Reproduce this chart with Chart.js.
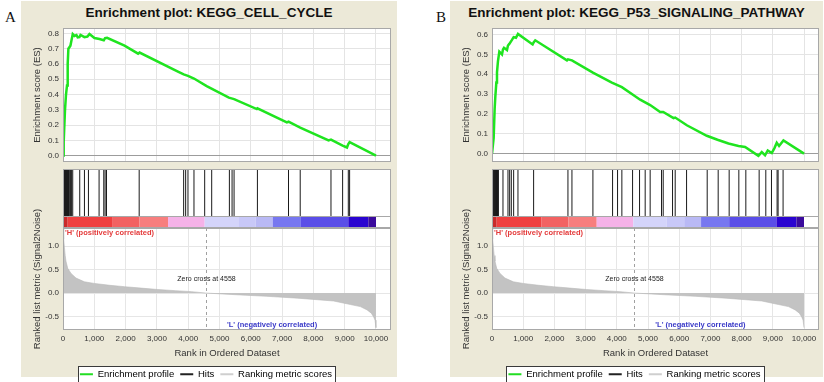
<!DOCTYPE html>
<html>
<head>
<meta charset="utf-8">
<script src="https://cdn.jsdelivr.net/npm/chart.js@4.4.1/dist/chart.umd.min.js"></script>
<style>
  body { margin:0; width:824px; height:382px; overflow:hidden; background:#fff; position:relative; font-family: Arial, "Liberation Sans", sans-serif; }
  .panel { position:absolute; top:1px; height:376px; background:#ece9d8; }
  .ptitle { position:absolute; top:4.5px; left:0; width:100%; text-align:center; font-weight:bold; font-size:13.5px; line-height:13.5px; color:#111; }
  .tag { position:absolute; top:10px; font-family:"Liberation Serif", "Times New Roman", serif; font-size:15px; line-height:15px; color:#111; }
  canvas { position:absolute; }
</style>
</head>
<body>
<div class="tag" style="left:5px">A</div>
<div class="tag" style="left:436px">B</div>
<div class="panel" style="left:21px;width:376px"><div class="ptitle">Enrichment plot: KEGG_CELL_CYCLE</div></div>
<div class="panel" style="left:450px;width:373px"><div class="ptitle">Enrichment plot: KEGG_P53_SIGNALING_PATHWAY</div></div>

<canvas id="esA" width="376" height="150" style="left:21px;top:20px"></canvas>
<canvas id="hitA" width="376" height="66" style="left:21px;top:166px"></canvas>
<canvas id="rankA" width="376" height="189" style="left:21px;top:200px"></canvas>
<canvas id="esB" width="373" height="150" style="left:450px;top:20px"></canvas>
<canvas id="hitB" width="373" height="66" style="left:450px;top:166px"></canvas>
<canvas id="rankB" width="373" height="189" style="left:450px;top:200px"></canvas>

<script>
// rank axis
const xTicks = [0, 1000, 2000, 3000, 4000, 5000, 6000, 7000, 8000, 9000, 10000];
const xMax = 10480;

// A: KEGG_CELL_CYCLE running enrichment score
const esRanksA = [0, 22, 64, 96, 128, 150, 172, 237, 311, 365, 430, 470, 525, 560, 685, 780, 845, 1005, 1165, 1303, 1345, 1409, 1966, 2400, 2446, 3673, 3855, 3993, 4185, 4591, 5300, 5466, 6192, 6212, 7153, 7205, 7579, 8486, 8562, 8934, 9074, 9116, 9158, 10000];
const esValsA = [0, 0.09, 0.30, 0.40, 0.46, 0.60, 0.70, 0.72, 0.796, 0.784, 0.79, 0.775, 0.776, 0.79, 0.776, 0.78, 0.796, 0.77, 0.764, 0.756, 0.77, 0.772, 0.72, 0.668, 0.675, 0.55, 0.532, 0.522, 0.505, 0.455, 0.38, 0.37, 0.305, 0.31, 0.218, 0.222, 0.183, 0.10, 0.105, 0.066, 0.053, 0.075, 0.088, 0];
const hitsA = [5, 18, 31, 44, 57, 70, 83, 96, 109, 122, 135, 148, 161, 174, 187, 200, 237, 269, 311, 535, 685, 813, 1153, 1303, 1345, 1390, 2434, 3855, 3919, 3993, 4185, 4527, 4751, 5316, 5402, 5466, 6212, 7205, 7579, 8562, 8934, 9116, 9158];
const esTicksA = [0, 0.1, 0.2, 0.3, 0.4, 0.5, 0.6, 0.7, 0.8];

// B: KEGG_P53_SIGNALING_PATHWAY running enrichment score
const esRanksB = [0, 32, 53, 85, 107, 139, 160, 192, 235, 320, 352, 384, 480, 512, 555, 640, 694, 768, 832, 1302, 1334, 1387, 2402, 2434, 2562, 3234, 3842, 4162, 4749, 5069, 5389, 5487, 5818, 5871, 6244, 6884, 7227, 7579, 7900, 8111, 8538, 8645, 8751, 8837, 8966, 9052, 9126, 9200, 9340, 10000];
const esValsB = [0, 0, 0.078, 0.226, 0.288, 0.358, 0.41, 0.467, 0.514, 0.50, 0.525, 0.533, 0.522, 0.545, 0.553, 0.573, 0.587, 0.584, 0.603, 0.55, 0.56, 0.571, 0.47, 0.475, 0.47, 0.408, 0.358, 0.335, 0.272, 0.245, 0.21, 0.21, 0.179, 0.182, 0.143, 0.09, 0.07, 0.051, 0.039, 0.034, -0.011, 0.008, -0.008, 0.016, 0.003, 0.028, 0.055, 0.039, 0.067, 0];
const hitsB = [40, 55, 70, 85, 100, 115, 130, 145, 160, 175, 190, 205, 352, 512, 566, 619, 694, 832, 1334, 2434, 2562, 3234, 3864, 4024, 4162, 4505, 4729, 4909, 5069, 5433, 5487, 5786, 5871, 6236, 6897, 7249, 7601, 7911, 8135, 8562, 8775, 8957, 9137, 9169, 9329];
const esTicksB = [0, 0.1, 0.2, 0.3, 0.4, 0.5, 0.6];

// ranked list metric (same list for both)
const metricRanks = [0, 12, 30, 45, 70, 96, 150, 256, 416, 685, 1005, 1500, 1966, 2500, 3032, 3600, 4099, 4558, 5500, 6513, 7500, 8645, 9180, 9500, 9715, 9850, 9926, 9970, 10000];
const metricVals = [1.6, 1.42, 1.15, 0.98, 0.8, 0.68, 0.53, 0.42, 0.32, 0.24, 0.205, 0.165, 0.136, 0.105, 0.075, 0.05, 0.03, 0, -0.035, -0.07, -0.11, -0.17, -0.245, -0.29, -0.36, -0.43, -0.51, -0.58, -0.74];
const metricTicks = [-0.5, 0, 0.5, 1.0];
const zeroCross = 4558;

// colour bar under the hits
const barEdges = [0, 150, 1590, 2446, 3356, 4527, 5600, 6160, 6700, 7601, 9116, 9756, 10000];
const barColors = ['#c92a2a', '#ef3f3f', '#f26262', '#f77e7e', '#f5b2e8', '#d4d4fa', '#c8c8f8', '#b9b9f5', '#7777f0', '#5a4ee8', '#2a04d0', '#3a0a9c'];

const legendNames = ['Enrichment profile', 'Hits', 'Ranking metric scores'];
const legendColors = ['#22dd22', '#222222', '#cfcfcf'];

const FONT = 'Arial, "Liberation Sans", sans-serif';
Chart.defaults.font.family = FONT;
Chart.defaults.color = '#333';
Chart.defaults.animation = false;
Chart.defaults.plugins.legend.display = false;
Chart.defaults.plugins.tooltip.enabled = false;

const hitLo = 0.2034;   // hits sit above this, colour bar below
const barMid = hitLo / 2;

const pts = (xs, ys) => xs.map((x, i) => ({x: x, y: ys[i]}));
const fixTicks = arr => s => { s.ticks = arr.map(v => ({value: v})); };

// white plot area, frame, legend box
const plotBox = {
  id: 'plotBox',
  beforeDraw(chart) {
    const {ctx, chartArea: a} = chart;
    ctx.save();
    ctx.fillStyle = '#fff';
    ctx.fillRect(a.left, a.top, a.right - a.left, a.bottom - a.top);
    const lg = chart.legend;
    if (lg && lg.options.display && lg.legendHitBoxes && lg.legendHitBoxes.length) {
      const hb = lg.legendHitBoxes;
      const l = Math.round(hb[0].left - 2) + 0.5;
      const r = Math.round(hb[hb.length - 1].left + hb[hb.length - 1].width + 3) + 0.5;
      const t = Math.round(hb[0].top - 4) + 0.5;
      const b = Math.round(hb[0].top + hb[0].height + 4) + 0.5;
      ctx.fillRect(l, t, r - l, b - t);
      ctx.strokeStyle = '#3a3a3a';
      ctx.lineWidth = 1;
      ctx.strokeRect(l, t, r - l, b - t);
    }
    ctx.restore();
  },
  afterDatasetsDraw(chart) {
    const {ctx, chartArea: a} = chart;
    ctx.save();
    ctx.strokeStyle = '#a8a8a8';
    ctx.lineWidth = 1;
    ctx.strokeRect(Math.round(a.left) + 0.5, Math.round(a.top) + 0.5, Math.round(a.right - a.left) - 1, Math.round(a.bottom - a.top) - 1);
    ctx.restore();
  }
};

const barLine = {
  id: 'barLine',
  afterDatasetsDraw(chart) {
    const {ctx, chartArea: a, scales: {y}} = chart;
    const py = Math.round(y.getPixelForValue(hitLo)) + 0.5;
    ctx.save();
    ctx.strokeStyle = '#a8a8a8';
    ctx.lineWidth = 1;
    ctx.beginPath(); ctx.moveTo(a.left, py); ctx.lineTo(a.right, py); ctx.stroke();
    ctx.restore();
  }
};

const rankNotes = {
  id: 'rankNotes',
  afterDatasetsDraw(chart) {
    const {ctx, chartArea: a, scales: {x, y}} = chart;
    ctx.save();
    const zx = Math.round(x.getPixelForValue(zeroCross)) + 0.5;
    ctx.strokeStyle = '#a0a0a0';
    ctx.lineWidth = 1;
    ctx.setLineDash([3, 3]);
    ctx.beginPath(); ctx.moveTo(zx, a.top); ctx.lineTo(zx, a.bottom); ctx.stroke();
    ctx.setLineDash([]);
    ctx.textBaseline = 'middle';
    ctx.font = '7px ' + FONT;
    ctx.fillStyle = '#222';
    ctx.textAlign = 'center';
    ctx.fillText('Zero cross at ' + zeroCross, zx, y.getPixelForValue(0.29));
    ctx.font = 'bold 7.5px ' + FONT;
    ctx.fillStyle = '#e43a3a';
    ctx.textAlign = 'left';
    ctx.fillText("'H' (positively correlated)", x.getPixelForValue(0) + 2, a.top + 5);
    ctx.fillStyle = '#3a3ac8';
    ctx.textAlign = 'center';
    ctx.fillText("'L' (negatively correlated)", x.getPixelForValue(6680), a.bottom - 5);
    ctx.restore();
  }
};

function esChart(id, ranks, vals, ticks, yMax, rightPad) {
  new Chart(document.getElementById(id), {
    type: 'line',
    data: { datasets: [{ data: pts(ranks, vals), borderColor: '#1fe41f', borderWidth: 2.5, pointRadius: 0, tension: 0 }] },
    options: {
      responsive: false,
      layout: { padding: { top: 4, right: rightPad, bottom: 1, left: 0 } },
      scales: {
        x: {
          type: 'linear', min: 0, max: xMax,
          afterBuildTicks: fixTicks(xTicks),
          ticks: { display: false },
          grid: { color: '#e4e4e4', drawTicks: false },
          border: { display: false },
          afterFit: s => { s.height = 0; }
        },
        y: {
          min: -0.042, max: yMax,
          afterBuildTicks: fixTicks(ticks),
          ticks: { font: { size: 8, lineHeight: 1 }, padding: 4, callback: v => v.toFixed(1) },
          grid: { color: c => c.tick && c.tick.value === 0 ? '#9c9c9c' : '#e4e4e4', drawTicks: false },
          border: { display: false },
          title: { display: true, text: 'Enrichment score (ES)', font: { size: 9.5 }, padding: { top: 11, bottom: 0 } },
          afterFit: s => { s.width = 42; }
        }
      }
    },
    plugins: [plotBox]
  });
}

function hitChart(id, hits, rightPad) {
  const hitPts = [];
  hits.forEach(r => { hitPts.push({x: r, y: hitLo}, {x: r, y: 1}, {x: r, y: null}); });
  new Chart(document.getElementById(id), {
    type: 'line',
    data: { datasets: [
      { data: barEdges.map(r => ({x: r, y: barMid})), borderWidth: 12, borderCapStyle: 'butt', pointRadius: 0,
        borderColor: barColors[0], segment: { borderColor: c => barColors[c.p0DataIndex] } },
      { data: hitPts, borderColor: '#1a1a1a', borderWidth: 1, pointRadius: 0, spanGaps: false }
    ] },
    options: {
      responsive: false,
      layout: { padding: { top: 3, right: rightPad, bottom: 4, left: 42 } },
      scales: {
        x: { type: 'linear', display: false, min: 0, max: xMax },
        y: { display: false, min: 0, max: 1 }
      }
    },
    plugins: [plotBox, barLine]
  });
}

function rankChart(id, rightPad) {
  new Chart(document.getElementById(id), {
    type: 'line',
    data: { datasets: [{ data: pts(metricRanks, metricVals), fill: 'origin', backgroundColor: '#c3c3c3',
      borderColor: '#b8b8b8', borderWidth: 0.6, pointRadius: 0, tension: 0 }] },
    options: {
      responsive: false,
      layout: { padding: { top: 28, right: rightPad, bottom: 0, left: 0 } },
      plugins: {
        legend: {
          display: true, position: 'bottom',
          labels: {
            boxWidth: 13, boxHeight: 2, padding: 6, color: '#111', font: { size: 9.5 },
            generateLabels: () => legendNames.map((t, i) => ({ text: t, fillStyle: legendColors[i], strokeStyle: legendColors[i], lineWidth: 0, hidden: false, datasetIndex: 0 }))
          }
        }
      },
      scales: {
        x: {
          type: 'linear', min: 0, max: xMax,
          afterBuildTicks: fixTicks(xTicks),
          ticks: { font: { size: 8, lineHeight: 1 }, padding: 5, maxRotation: 0, autoSkip: false, callback: v => v.toLocaleString('en-US') },
          grid: { color: '#e6e6e6', drawTicks: false },
          border: { display: false },
          title: { display: true, text: 'Rank in Ordered Dataset', font: { size: 9.5 }, padding: { top: 0, bottom: 4.8 } },
          afterFit: s => { s.height = 33.5; }
        },
        y: {
          min: -0.79, max: 1.39,
          afterBuildTicks: fixTicks(metricTicks),
          ticks: { font: { size: 8, lineHeight: 1 }, padding: 4, callback: v => v.toFixed(1) },
          grid: { color: '#e6e6e6', drawTicks: false },
          border: { display: false },
          title: { display: true, text: 'Ranked list metric (Signal2Noise)', font: { size: 9.5 }, padding: { top: 11, bottom: 0 } },
          afterFit: s => { s.width = 42; }
        }
      }
    },
    plugins: [plotBox, rankNotes]
  });
}

esChart('esA', esRanksA, esValsA, esTicksA, 0.836, 6);
hitChart('hitA', hitsA, 6);
rankChart('rankA', 6);
esChart('esB', esRanksB, esValsB, esTicksB, 0.633, 4);
hitChart('hitB', hitsB, 4);
rankChart('rankB', 4);
</script>
</body>
</html>
